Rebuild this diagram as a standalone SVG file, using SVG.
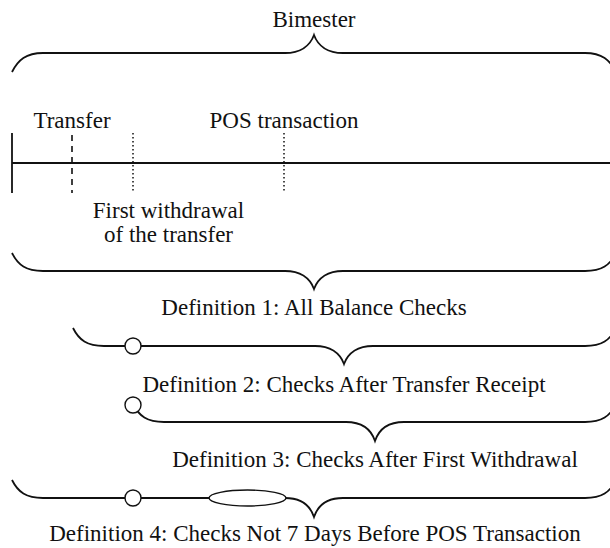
<svg xmlns="http://www.w3.org/2000/svg" width="610" height="548" viewBox="0 0 610 548">
<style>
text{font-family:"Liberation Serif","Times New Roman",serif;font-size:23px;fill:#111;text-anchor:middle}
.br{fill:none;stroke:#111;stroke-width:1.8}
.ln{stroke:#111;stroke-width:1.8}
.dash{stroke:#111;stroke-width:1.6;stroke-dasharray:6 5}
.dot{stroke:#111;stroke-width:1.5;stroke-dasharray:1.5 2.5}
.mk{fill:#fff;stroke:#111;stroke-width:1.4}
</style>
<rect width="610" height="548" fill="#fff"/>
<g id="bimester">
<path class="br" d="M12 72 C18 60 26 53 43 53 L285 53 C300 53 310 46 314 35 C318 46 328 53 343 53 L585 53 C602 53 610 60 616 72"/>
<text x="314" y="27">Bimester</text>
</g>
<g id="timeline">
<line class="ln" x1="12" y1="133" x2="12" y2="193"/>
<line class="ln" x1="12" y1="163" x2="610" y2="163"/>
<line class="dash" x1="72" y1="135" x2="72" y2="193"/>
<line class="dot" x1="133" y1="133" x2="133" y2="193"/>
<line class="dot" x1="284" y1="133" x2="284" y2="193"/>
</g>
<g id="transfer"><text x="72" y="128">Transfer</text></g>
<g id="pos"><text x="284" y="128">POS transaction</text></g>
<g id="first-withdrawal">
<text x="168.5" y="218">First withdrawal</text>
<text x="168.5" y="241.5">of the transfer</text>
</g>
<g id="definition1">
<path class="br" d="M12 253 C18 265 26 271 43 271 L285 271 C300 271 310 278 314 289 C318 278 328 271 343 271 L585 271 C602 271 610 265 616 253"/>
<text x="314" y="315">Definition 1: All Balance Checks</text>
</g>
<g id="definition2">
<path class="br" d="M73 328 C79 340 87 346 104 346 L315 346 C330 346 340 353 344 364 C348 353 358 346 373 346 L585 346 C602 346 610 340 616 328"/>
<circle class="mk" cx="133" cy="346" r="8"/>
<text x="344" y="392">Definition 2: Checks After Transfer Receipt</text>
</g>
<g id="definition3">
<path class="br" d="M133 404 C139 416 147 422 164 422 L346 422 C361 422 371 429 375 441 C379 429 389 422 404 422 L585 422 C602 422 610 416 616 404"/>
<circle class="mk" cx="133" cy="405" r="8"/>
<text x="375" y="467">Definition 3: Checks After First Withdrawal</text>
</g>
<g id="definition4">
<path class="br" d="M12 480 C18 492 26 498 43 498 L285 498 C300 498 310 505 314 517 C318 505 328 498 343 498 L585 498 C602 498 610 492 616 480"/>
<circle class="mk" cx="133" cy="498" r="8"/>
<ellipse class="mk" cx="247.5" cy="498" rx="38.5" ry="8"/>
<text x="315" y="541">Definition 4: Checks Not 7 Days Before POS Transaction</text>
</g>
<g id="connectors"></g>
</svg>
